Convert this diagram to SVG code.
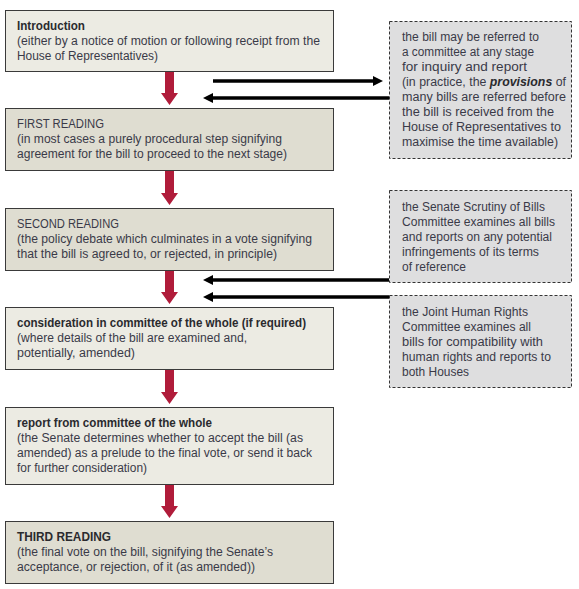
<svg xmlns="http://www.w3.org/2000/svg" width="579" height="589" viewBox="0 0 579 589">
<style>
  .light { fill: #ecebe3; stroke: #3a3a3a; stroke-width: 1; }
  .dark { fill: #dfddd1; stroke: #3a3a3a; stroke-width: 1; }
  .note { fill: #dededf; stroke: #333333; stroke-width: 1; stroke-dasharray: 3 2; }
  text { font-family: "Liberation Sans", Arial, sans-serif; font-size: 12.5px; fill: #3a3a48; }
  .b { font-weight: bold; fill: #2a2a2e; }
  .red { fill: #b01c3a; }
  .blk { stroke: #000000; stroke-width: 3.5; fill: none; marker-end: url(#ah); }
</style>
<defs>
  <marker id="ah" markerWidth="10" markerHeight="10" refX="4" refY="5" orient="auto" markerUnits="userSpaceOnUse">
    <path d="M0,0 L10,5 L0,10 z" fill="#000000"/>
  </marker>
</defs>
<rect width="579" height="589" fill="#ffffff"/>

<g id="connectors">
  <polygon class="red" points="165,71 174,71 174,93 178,93 169.5,105 161,93 165,93"/>
  <polygon class="red" points="165,170 174,170 174,193 178,193 169.5,205 161,193 165,193"/>
  <polygon class="red" points="165,270 174,270 174,292 178,292 169.5,304 161,292 165,292"/>
  <polygon class="red" points="165,369 174,369 174,392 178,392 169.5,404 161,392 165,392"/>
  <polygon class="red" points="165,484 174,484 174,506 178,506 169.5,518 161,506 165,506"/>
  <line class="blk" x1="213" y1="81" x2="377" y2="81"/>
  <line class="blk" x1="389" y1="98" x2="209" y2="98"/>
  <line class="blk" x1="389" y1="280" x2="209" y2="280"/>
  <line class="blk" x1="389" y1="297" x2="209" y2="297"/>
</g>

<g id="introduction">
  <rect class="light" x="5.5" y="10.5" width="328" height="61"/>
  <text class="b" x="17" y="30" textLength="68" lengthAdjust="spacingAndGlyphs">Introduction</text>
  <text x="17" y="45" textLength="303" lengthAdjust="spacingAndGlyphs">(either by a notice of motion or following receipt from the</text>
  <text x="17" y="60" textLength="141" lengthAdjust="spacingAndGlyphs">House of Representatives)</text>
</g>

<g id="first-reading">
  <rect class="dark" x="5.5" y="108.5" width="328" height="62"/>
  <text x="17" y="128" textLength="87" lengthAdjust="spacingAndGlyphs">FIRST READING</text>
  <text x="17" y="143" textLength="265" lengthAdjust="spacingAndGlyphs">(in most cases a purely procedural step signifying</text>
  <text x="17" y="158" textLength="270" lengthAdjust="spacingAndGlyphs">agreement for the bill to proceed to the next stage)</text>
</g>

<g id="second-reading">
  <rect class="dark" x="5.5" y="208.5" width="328" height="62"/>
  <text x="17" y="228" textLength="102" lengthAdjust="spacingAndGlyphs">SECOND READING</text>
  <text x="17" y="243" textLength="295" lengthAdjust="spacingAndGlyphs">(the policy debate which culminates in a vote signifying</text>
  <text x="17" y="258" textLength="260" lengthAdjust="spacingAndGlyphs">that the bill is agreed to, or rejected, in principle)</text>
</g>

<g id="committee-of-whole">
  <rect class="light" x="5.5" y="307.5" width="328" height="62"/>
  <text class="b" x="17" y="327" textLength="289" lengthAdjust="spacingAndGlyphs">consideration in committee of the whole (if required)</text>
  <text x="17" y="342" textLength="230" lengthAdjust="spacingAndGlyphs">(where details of the bill are examined and,</text>
  <text x="17" y="357" textLength="118" lengthAdjust="spacingAndGlyphs">potentially, amended)</text>
</g>

<g id="report">
  <rect class="light" x="5.5" y="407.5" width="328" height="77"/>
  <text class="b" x="17" y="427" textLength="195" lengthAdjust="spacingAndGlyphs">report from committee of the whole</text>
  <text x="17" y="442" textLength="286" lengthAdjust="spacingAndGlyphs">(the Senate determines whether to accept the bill (as</text>
  <text x="17" y="457" textLength="295" lengthAdjust="spacingAndGlyphs">amended) as a prelude to the final vote, or send it back</text>
  <text x="17" y="472" textLength="130" lengthAdjust="spacingAndGlyphs">for further consideration)</text>
</g>

<g id="third-reading">
  <rect class="dark" x="5.5" y="521.5" width="328" height="62"/>
  <text class="b" x="17" y="541" textLength="94" lengthAdjust="spacingAndGlyphs">THIRD READING</text>
  <text x="17" y="556" textLength="256" lengthAdjust="spacingAndGlyphs">(the final vote on the bill, signifying the Senate’s</text>
  <text x="17" y="571" textLength="238" lengthAdjust="spacingAndGlyphs">acceptance, or rejection, of it (as amended))</text>
</g>

<g id="note-referral">
  <rect class="note" x="389.5" y="21.5" width="182" height="137"/>
  <text x="402" y="41" textLength="137" lengthAdjust="spacingAndGlyphs">the bill may be referred to</text>
  <text x="402" y="56" textLength="132" lengthAdjust="spacingAndGlyphs">a committee at any stage</text>
  <text x="402" y="71" textLength="125" lengthAdjust="spacingAndGlyphs">for inquiry and report</text>
  <text x="402" y="86" textLength="164" lengthAdjust="spacingAndGlyphs">(in practice, the <tspan font-weight="bold" font-style="italic" fill="#2a2a2e">provisions</tspan> of</text>
  <text x="402" y="101" textLength="164" lengthAdjust="spacingAndGlyphs">many bills are referred before</text>
  <text x="402" y="116" textLength="152" lengthAdjust="spacingAndGlyphs">the bill is received from the</text>
  <text x="402" y="131" textLength="159" lengthAdjust="spacingAndGlyphs">House of Representatives to</text>
  <text x="402" y="146" textLength="156" lengthAdjust="spacingAndGlyphs">maximise the time available)</text>
</g>

<g id="note-scrutiny">
  <rect class="note" x="389.5" y="190.5" width="182" height="92"/>
  <text x="402" y="211" textLength="143" lengthAdjust="spacingAndGlyphs">the Senate Scrutiny of Bills</text>
  <text x="402" y="226" textLength="153" lengthAdjust="spacingAndGlyphs">Committee examines all bills</text>
  <text x="402" y="241" textLength="150" lengthAdjust="spacingAndGlyphs">and reports on any potential</text>
  <text x="402" y="256" textLength="137" lengthAdjust="spacingAndGlyphs">infringements of its terms</text>
  <text x="402" y="271" textLength="64" lengthAdjust="spacingAndGlyphs">of reference</text>
</g>

<g id="note-human-rights">
  <rect class="note" x="389.5" y="295.5" width="182" height="92"/>
  <text x="402" y="316" textLength="126" lengthAdjust="spacingAndGlyphs">the Joint Human Rights</text>
  <text x="402" y="331" textLength="129" lengthAdjust="spacingAndGlyphs">Committee examines all</text>
  <text x="402" y="346" textLength="141" lengthAdjust="spacingAndGlyphs">bills for compatibility with</text>
  <text x="402" y="361" textLength="149" lengthAdjust="spacingAndGlyphs">human rights and reports to</text>
  <text x="402" y="376" textLength="67" lengthAdjust="spacingAndGlyphs">both Houses</text>
</g>
</svg>
